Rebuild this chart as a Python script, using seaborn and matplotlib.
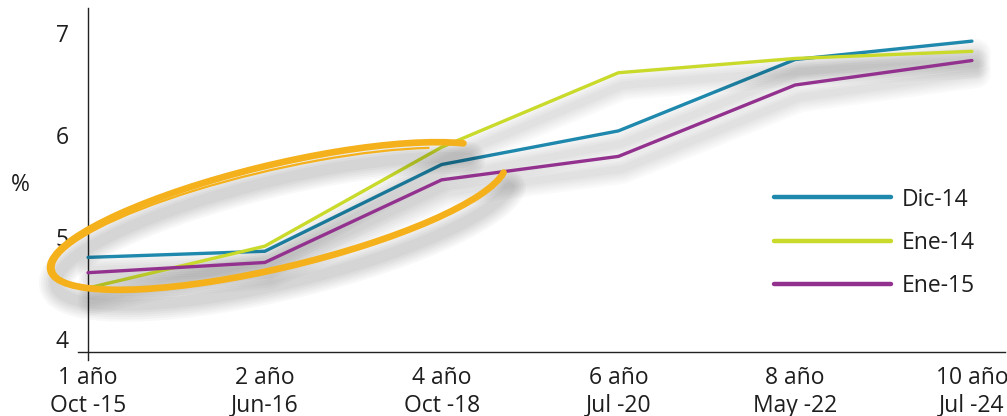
import pandas as pd
import matplotlib
matplotlib.use("Agg")
import matplotlib.pyplot as plt
import matplotlib.patheffects as pe
from matplotlib.patches import Arc
from matplotlib.lines import Line2D
import seaborn as sns

# --- DATA ---
plazos = ["1 año\nOct -15", "2 año\nJun-16", "4 año\nOct -18",
          "6 año\nJul -20", "8 año\nMay -22", "10 año\nJul -24"]
dic_14 = [4.80, 4.86, 5.71, 6.04, 6.74, 6.92]
ene_14 = [4.50, 4.91, 5.88, 6.61, 6.75, 6.82]
ene_15 = [4.65, 4.75, 5.56, 5.79, 6.49, 6.73]
series = ["Dic-14", "Ene-14", "Ene-15"]
colores = {"Dic-14": "#1f88ad", "Ene-14": "#c9da2b", "Ene-15": "#93318f"}
y_ticks = [4, 5, 6, 7]

sns.set_style("white")
plt.rcParams["font.family"] = ["Open Sans", "DejaVu Sans"]
TXT = "#1e1e1e"
FS = 16.5

rows = []
for name, vals in zip(series, [dic_14, ene_14, ene_15]):
    for i, v in enumerate(vals):
        rows.append({"pos": i, "valor": v, "serie": name})
df = pd.DataFrame(rows)

fig = plt.figure(figsize=(10.07, 4.16), dpi=100)
ax = fig.add_axes([0.0775, 0.1346, 0.9205, 0.8462])

sns.lineplot(data=df, x="pos", y="valor", hue="serie", palette=colores,
             linewidth=2.4, legend=False, ax=ax, zorder=3)


def soft_shadow(lw, dy=-9, dx=3, steps=6, a=0.02):
    # stacked wide, faint shadows to fake a blur
    eff = []
    for k in range(steps):
        eff.append(pe.SimpleLineShadow(offset=(dx, dy), shadow_color="k",
                                       alpha=a, rho=1.0,
                                       linewidth=lw + 3.2 * (steps - k)))
    eff.append(pe.Normal())
    return eff


for ln in ax.lines:
    ln.set_solid_capstyle("round")
    ln.set_path_effects(soft_shadow(2.4))

# hand-drawn orange ellipse (decoration, pixel coordinates)
px = fig.dpi_scale_trans
cx, cy = 278 / 100, (416 - 216) / 100
arc = Arc((cx, cy), 4.68, 1.03, angle=13.4, theta1=8, theta2=357.5,
          transform=px, color="#f5b11b", lw=4.8, zorder=2, capstyle="round")
arc.set_path_effects(soft_shadow(4.8, dy=-11, dx=4, steps=6, a=0.028))
fig.add_artist(arc)
arc2 = Arc((cx + 0.01, cy - 0.02), 4.62, 0.97, angle=13.0, theta1=12, theta2=340,
           transform=px, color="#f5b11b", lw=1.6, zorder=2)
fig.add_artist(arc2)

ax.set_xlim(-0.0566, 5.187)
ax.set_ylim(3.794, 7.245)
ax.set_xticks(range(len(plazos)))
ax.set_xticklabels(plazos)
ax.set_yticks(y_ticks)
ax.tick_params(axis="x", length=0, pad=10, labelsize=FS, colors=TXT)
ax.tick_params(axis="y", length=0, pad=14, labelsize=FS, colors=TXT)
ax.set_xlabel("")
ax.set_ylabel("%", rotation=0, fontsize=FS, color=TXT, va="center", ha="center")
ax.yaxis.set_label_coords(-0.0626, 0.497)

for s in ["top", "right"]:
    ax.spines[s].set_visible(False)
ax.spines["left"].set_position(("data", 0))
ax.spines["bottom"].set_position(("data", 3.87))
for s in ["left", "bottom"]:
    ax.spines[s].set_color("#222222")
    ax.spines[s].set_linewidth(1.0)

handles = [Line2D([0], [0], color=colores[s], lw=3.2, solid_capstyle="round") for s in series]
ax.legend(handles, series, loc="upper left", bbox_to_anchor=(0.751, 0.49),
          frameon=False, fontsize=FS, handlelength=5.1, handletextpad=0.45,
          labelspacing=0.85, borderpad=0, borderaxespad=0, labelcolor=TXT)

fig.savefig("out.png", dpi=100)
